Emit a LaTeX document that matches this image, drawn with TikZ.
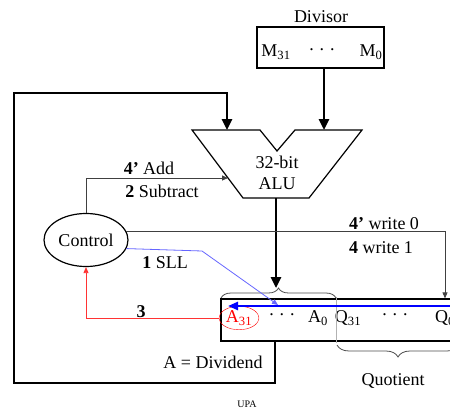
\documentclass[tikz,border=0pt]{standalone}
\usepackage{fontspec}
\setmainfont{Liberation Serif}
\usetikzlibrary{shapes.geometric,decorations.pathreplacing,arrows.meta}
\begin{document}
\begin{tikzpicture}[>={Triangle[length=6pt,width=5pt]}, x=1pt, y=-1pt,
    txt/.style={font=\fontsize{18}{21}\selectfont, inner sep=0pt},
    bus/.style={line width=2.6pt, -{Triangle[length=11pt,width=10pt]}},
    wire/.style={line width=0.8pt, black!75, ->},
    regbox/.style={draw, line width=1.2pt, inner sep=0pt},
    brc/.style={decorate, line width=0.8pt, black!70}]
    \useasboundingbox (0,0) rectangle (450,412);
    \clip (0,0) rectangle (450,412);
    % divisor register
    \node[txt] (divlab) at (321,17) {Divisor};
    \node[regbox, minimum width=127pt, minimum height=41pt] (mbox) at (320.5,47.5) {};
    \node[txt] (m31) at (276,52) {M\textsubscript{31}};
    \node[txt] (mdots) at (322,50) {.\,\,.\,\,.};
    \node[txt] (m0) at (371,52) {M\textsubscript{0}};
    % alu
    \draw[line width=1.2pt] (192,130) -- (260,130) -- (277,151) -- (295,130) -- (362,130) -- (309,198) -- (243,198) -- cycle;
    \node[txt, align=center] (alu) at (277,173) {32-bit\\ALU};
    \coordinate (aluA) at (227,130);
    \coordinate (aluB) at (324,130);
    \coordinate (aluC) at (228,178);
    \coordinate (aluOut) at (276,198);
    % remainder / quotient register
    \node[regbox, minimum width=249pt, minimum height=42pt] (reg) at (345.5,320) {};
    \node[txt, draw=red, ellipse, inner sep=1pt, text=red] (a31) at (239,318) {A\textsubscript{31}};
    \node[txt] (adots) at (282,315) {.\,\,.\,\,.};
    \node[txt] (a0) at (318,318) {A\textsubscript{0}};
    \node[txt] (q31) at (348,318) {Q\textsubscript{31}};
    \node[txt] (qdots) at (395,315) {.\,\,.\,\,.};
    \node[txt] (q0) at (445,318) {Q\textsubscript{0}};
    \draw[black!30, line width=0.8pt] (336,297) -- (336,343);
    \draw[brc, decoration={brace, amplitude=10pt}] (221,298) -- (336,298) coordinate[midway, yshift=10pt] (abr);
    \draw[brc, decoration={brace, amplitude=12pt}] (459,345) -- (337,345);
    \coordinate (shR) at (470,306);
    \coordinate (shL) at (228,306);
    \draw[-{Triangle[length=10pt,width=8pt]}, blue, line width=2.4pt] (shR) -- (shL);
    % control
    \node[txt, draw, ellipse, line width=1.2pt, minimum width=84pt, minimum height=53pt] (ctrl) at (86,240) {Control};
    % labels
    \node[txt] (lAdd) at (149,168) {\textbf{4’} Add};
    \node[txt] (lSub) at (162,191) {\textbf{2} Subtract};
    \node[txt] (lW0) at (384,224) {\textbf{4’} write 0};
    \node[txt] (lW1) at (381,248) {\textbf{4} write 1};
    \node[txt] (lSll) at (165,263) {\textbf{1} SLL};
    \node[txt] (lThree) at (141,312) {\textbf{3}};
    \node[txt] (lDiv) at (213,362) {A = Dividend};
    \node[txt] (lQuo) at (393,381) {Quotient};
    \node[font=\fontsize{10}{12}\selectfont, inner sep=0pt] (upa) at (247,404) {UPA};
    % data paths
    \draw[bus] (mbox.south -| aluB) -- (aluB);
    \draw[bus] (aluOut) -- (aluOut |- abr);
    \coordinate (fb1) at (275,383);
    \coordinate (fb2) at (14,383);
    \coordinate (fb3) at (14,93);
    \coordinate (fb4) at (227,93);
    \draw[bus] (reg.south -| fb1) -- (fb1) -- (fb2) -- (fb3) -- (fb4) -- (aluA);
    % control signals
    \coordinate (wrx) at (445,233);
    \coordinate (sll1) at (202,251);
    \coordinate (shTip) at (278,305);
    \draw[wire] (ctrl.north) |- (aluC);
    \draw[wire] (ctrl.12) -- (ctrl.12 -| wrx) -- (wrx |- reg.north);
    \draw[->, blue!60, line width=0.8pt] (ctrl.-12) -- (sll1) -- (shTip);
    \draw[->, red!80, line width=0.8pt] (a31.west) -- (ctrl |- a31) -- (ctrl.south);
\end{tikzpicture}
\end{document}
